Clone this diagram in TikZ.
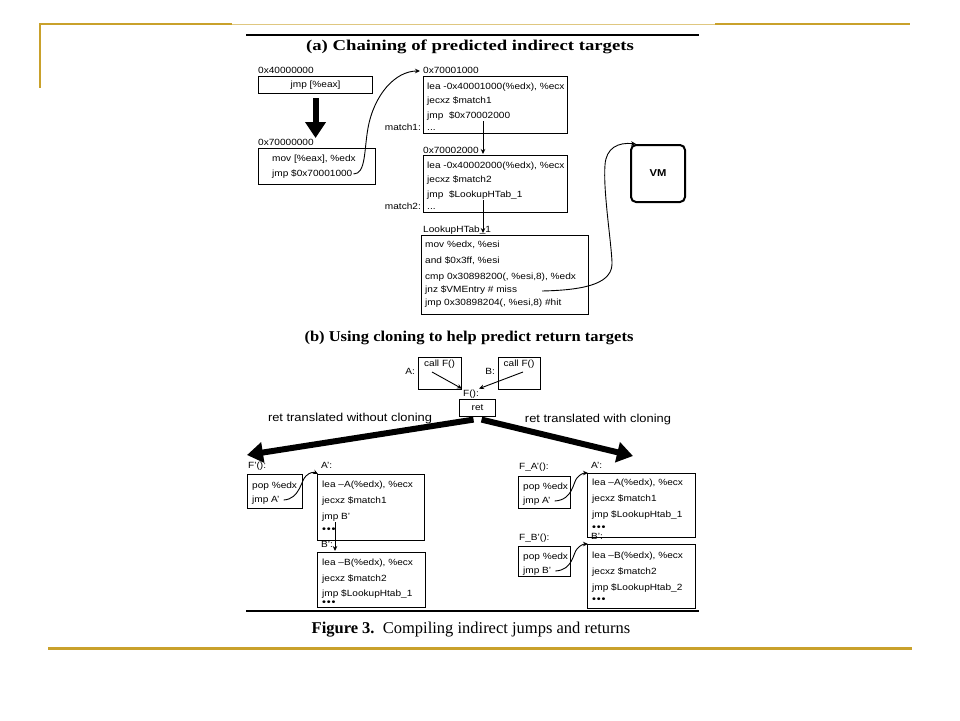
\documentclass[tikz,border=0pt]{standalone}
\usepackage{fontspec}
\setmainfont{Liberation Serif}
\newfontfamily\codef[FakeStretch=1.12]{Liberation Sans}
\newfontfamily\titlef[FakeStretch=1.25]{Liberation Serif}
\newfontfamily\titlefb[FakeStretch=1.1]{Liberation Serif}
\usetikzlibrary{arrows.meta}
\definecolor{gold}{RGB}{201,161,43}
\newcommand\mkbox[5]{\node[box, minimum width={#4-#2}, minimum height={#5-#3}, anchor=north west] (#1) at (#2,#3) {};}
\newcommand\tdots{•\kern0.8pt•\kern0.8pt•}
\begin{document}
\begin{tikzpicture}[x=1pt,y=-1pt,
  box/.style={draw, line width=1.1pt, inner sep=0pt},
  code/.style={font=\codef\fontsize{9}{10}\selectfont, anchor=west, inner sep=0pt, text height=6.5pt, text depth=1.8pt},
  lbl/.style={code},
  ctr/.style={font=\codef\fontsize{9}{10}\selectfont, inner sep=0pt, text height=6.5pt, text depth=1.8pt},
  dots/.style={font=\codef\fontsize{10}{11}\selectfont, anchor=west, inner sep=0pt},
  side/.style={font=\codef\fontsize{11.5}{13}\selectfont, inner sep=0pt},
  conn/.style={line width=0.9pt, -{Stealth[length=5pt,width=4.5pt]}},
  big/.style={line width=6pt, -{Triangle[length=16pt,width=20pt]}},
  ttl/.style={font=\titlef\bfseries\fontsize{15}{17}\selectfont, inner sep=0pt},
  ttlb/.style={font=\titlefb\bfseries\fontsize{15}{17}\selectfont, inner sep=0pt},
  frame/.style={draw=gold, line width=2.5pt}
]
\useasboundingbox (0,0) rectangle (960,720);
% slide frame
\coordinate (g1) at (39,24); \coordinate (g2) at (232,24);
\coordinate (g3) at (715,24); \coordinate (g4) at (910,24);
\coordinate (g5) at (40,88); \coordinate (g6) at (48,648); \coordinate (g7) at (912,648);
\draw[frame] (g1) -- (g2);
\draw[gold!60, line width=1pt] (g2) -- (g3);
\draw[frame] (g3) -- (g4);
\draw[frame] ([xshift=1pt]g1) -- (g5);
\draw[frame, line width=3pt] (g6) -- (g7);
% figure rules
\coordinate (r1) at (246,35); \coordinate (r2) at (699,35);
\coordinate (r3) at (246,611); \coordinate (r4) at (699,611);
\draw[line width=2pt] (r1) -- (r2);
\draw[line width=2pt] (r3) -- (r4);

% ---------- (a) ----------
\node[ttl] (ta) at (470,47) {(a) Chaining of predicted indirect targets};

\mkbox{b1}{258}{76}{372}{93}
\node[lbl] (l1) at (258,71) {0x40000000};
\node[ctr] (t11) at (b1.center) {jmp [\%eax]};

\mkbox{b2}{258}{148}{375}{184}
\node[lbl] (l2) at (258,143) {0x70000000};
\node[code] (t21) at (272,159) {mov [\%eax], \%edx};
\node[code] (t22) at (272,174) {jmp \$0x70001000};
\draw[big, shorten <=4pt, shorten >=10pt] (b1.south) -- (b1.south |- b2.north);

\mkbox{b3}{423}{76}{567}{133}
\node[lbl] (l3) at (423,71) {0x70001000};
\node[code] (t31) at (427,87) {lea -0x40001000(\%edx), \%ecx};
\node[code] (t32) at (427,101) {jecxz \$match1};
\node[code] (t33) at (427,116) {jmp\ \ \$0x70002000};
\node[code] (t34) at (427,128) {...};
\node[code, anchor=east] (m1) at (421,128) {match1:};
\draw[conn] ([xshift=1pt]t22.east) .. controls (366,174) and (364,150) .. (368,128)
  .. controls (374,95) and (395,71) .. ([xshift=-3pt]l3.west);

\mkbox{b4}{423}{155}{567}{212}
\node[lbl] (l4) at (423,151) {0x70002000};
\node[code] (t41) at (427,166) {lea -0x40002000(\%edx), \%ecx};
\node[code] (t42) at (427,180) {jecxz \$match2};
\node[code] (t43) at (427,195) {jmp\ \ \$LookupHTab\_1};
\node[code] (t44) at (427,207) {...};
\node[code, anchor=east] (m2) at (421,207) {match2:};
\coordinate (a3s) at (483,121); \coordinate (a3e) at (483,154);
\draw[conn] (a3s) -- (a3e);

\mkbox{b5}{421}{235}{588}{314}
\node[lbl] (l5) at (423,230) {LookupHTab\_1};
\node[code] (t51) at (425,245) {mov \%edx, \%esi};
\node[code] (t52) at (425,261) {and \$0x3ff, \%esi};
\node[code] (t53) at (425,277) {cmp 0x30898200(, \%esi,8), \%edx};
\node[code] (t54) at (425,290) {jnz \$VMEntry \# miss};
\node[code] (t55) at (425,303) {jmp 0x30898204(, \%esi,8) \#hit};
\coordinate (a4s) at (483,200); \coordinate (a4e) at (483,233);
\draw[conn] (a4s) -- (a4e);

\node[draw, line width=2pt, rounded corners=5pt, minimum width=54, minimum height=57,
  anchor=north west, font=\codef\bfseries\fontsize{10}{12}\selectfont] (vm) at (630,144) {VM};
\coordinate (ms) at (542,291);
\draw[conn] (ms) .. controls (590,290) and (613,282) .. (612,262)
  .. controls (611,240) and (603,190) .. (605,165)
  .. controls (606,148) and (618,142) .. ([xshift=6pt]vm.north west);

% ---------- (b) ----------
\node[ttlb] (tb) at (469,338) {(b) Using cloning to help predict return targets};

\mkbox{bA}{418}{357}{461}{389}
\node[ctr] (tA) at (439.5,364) {call F()};
\node[code, anchor=east] (lA) at (415,372) {A:};
\mkbox{bB}{498}{357}{540}{389}
\node[ctr] (tB) at (519,364) {call F()};
\node[code, anchor=east] (lB) at (495,372) {B:};
\node[ctr] (lF) at (471,394) {F():};
\coordinate (cA) at (432,372); \coordinate (cB) at (523,372);
\draw[conn] (cA) -- ([xshift=-1pt,yshift=1pt]lF.north west);
\draw[conn] (cB) -- ([xshift=0pt,yshift=1pt]lF.north east);

\mkbox{bR}{459}{399}{495}{416}
\node[ctr] (tR) at (bR.center) {ret};
\coordinate (bl) at (247,455); \coordinate (br) at (633,456);
\draw[big] ([xshift=-4pt,yshift=-2.5pt]bR.south) -- (bl);
\draw[big] ([xshift=4pt,yshift=-2.5pt]bR.south) -- (br);
\node[side] (rl) at (350,419) {ret translated without cloning};
\node[side] (rr) at (598,420) {ret translated with cloning};

% bottom left
\node[lbl] (lFp) at (248,466) {F’():};
\mkbox{bFp}{247}{474}{302}{508}
\node[code] (tF1) at (252,486) {pop \%edx};
\node[code] (tF2) at (252,500) {jmp A’};
\node[lbl] (lAp) at (321,466) {A’:};
\mkbox{bAp}{317}{474}{424}{540}
\node[code] (tA1) at (322,485) {lea –A(\%edx), \%ecx};
\node[code] (tA2) at (322,501) {jecxz \$match1};
\node[code] (tA3) at (322,517) {jmp B’};
\node[dots] (tA4) at (322,530) {\tdots};
\node[lbl] (lBp) at (321,545) {B’:};
\mkbox{bBp}{317}{552}{425}{607}
\node[code] (tB1) at (322,563) {lea –B(\%edx), \%ecx};
\node[code] (tB2) at (322,579) {jecxz \$match2};
\node[code] (tB3) at (322,594) {jmp \$LookupHtab\_1};
\node[dots] (tB4) at (322,603) {\tdots};
\coordinate (a5s) at (335,522); \coordinate (a5e) at (335,551);
\draw[conn] (a5s) -- (a5e);
\draw[conn] ([xshift=4pt]tF2.east) .. controls (300,499) and (301,480) .. (306,476)
  .. controls (310,472) and (314,472) .. ([xshift=1pt]bAp.north west);

% bottom right
\node[lbl] (lFA) at (519,467) {F\_A’():};
\mkbox{bFA}{518}{476}{570}{508}
\node[code] (tFA1) at (523,487) {pop \%edx};
\node[code] (tFA2) at (523,501) {jmp A’};
\node[lbl] (lAr) at (591,466) {A’:};
\mkbox{bAr}{587}{473}{695}{537}
\node[code] (tAr1) at (592,483) {lea –A(\%edx), \%ecx};
\node[code] (tAr2) at (592,499) {jecxz \$match1};
\node[code] (tAr3) at (592,515) {jmp \$LookupHtab\_1};
\node[dots] (tAr4) at (592,528) {\tdots};
\node[lbl] (lFB) at (519,538) {F\_B’():};
\mkbox{bFB}{518}{546}{570}{576}
\node[code] (tFB1) at (523,557) {pop \%edx};
\node[code] (tFB2) at (523,571) {jmp B’};
\node[lbl] (lBr) at (591,537) {B’:};
\mkbox{bBr}{587}{544}{695}{608}
\node[code] (tBr1) at (592,556) {lea –B(\%edx), \%ecx};
\node[code] (tBr2) at (592,572) {jecxz \$match2};
\node[code] (tBr3) at (592,588) {jmp \$LookupHtab\_2};
\node[dots] (tBr4) at (592,600) {\tdots};
\draw[conn] ([xshift=4pt]tFA2.east) .. controls (573,500) and (573,482) .. (577,478)
  .. controls (580,474) and (584,473) .. ([xshift=1pt]bAr.north west);
\draw[conn] ([xshift=4pt]tFB2.east) .. controls (573,570) and (573,553) .. (577,549)
  .. controls (580,545) and (584,544) .. ([xshift=1pt]bBr.north west);

% caption
\node[inner sep=0pt, font=\fontsize{16.5}{18}\selectfont] (cap) at (471,630) {\textbf{Figure 3.}\ \ Compiling indirect jumps and returns};
\end{tikzpicture}
\end{document}
